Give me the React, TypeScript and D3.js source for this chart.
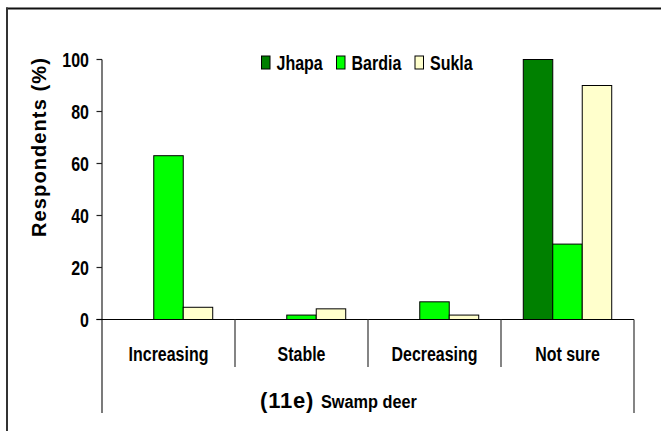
import React from "react";
import * as d3 from "d3";

const categories = ["Increasing", "Stable", "Decreasing", "Not sure"];
const seriesNames = ["Jhapa", "Bardia", "Sukla"];
const jhapa = [0, 0, 0, 100];
const bardia = [63, 1.7, 6.8, 29];
const sukla = [4.7, 4.1, 1.7, 90];
const yTicks = [0, 20, 40, 60, 80, 100];
const colors = ["#008000", "#00FF00", "#FFFFCC"];
const titleBold = "(11e)";
const titleRest = "Swamp deer";
const yTitle = "Respondents (%)";

const W = 661;
const H = 431;
const SANS = "'Liberation Sans', Arial, sans-serif";
const SX = 0.82;

function NT(props: {
  x: number;
  y: number;
  anchor?: string;
  size?: number;
  sx?: number;
  dy?: string;
  spacing?: number;
  children: React.ReactNode;
}) {
  const { x, y, anchor = "start", size = 19, sx = SX, dy, spacing, children } = props;
  return (
    <text
      transform={`translate(${x},${y}) scale(${sx},1)`}
      textAnchor={anchor}
      dy={dy}
      fontFamily={SANS}
      fontWeight="bold"
      fontSize={size}
      letterSpacing={spacing}
      fill="#000"
    >
      {children}
    </text>
  );
}

export default function App() {
  const values = [jhapa, bardia, sukla];
  const x0 = d3.scaleBand<string>().domain(categories).range([102, 634]).padding(0);
  const bw = x0.bandwidth();
  const groupW = bw * 0.665;
  const x1 = d3
    .scaleBand<string>()
    .domain(seriesNames)
    .range([(bw - groupW) / 2, (bw + groupW) / 2])
    .padding(0);
  const y = d3.scaleLinear().domain([0, 100]).range([319.5, 59.5]);
  const axisX = 102;
  const baseY = y(0);

  const legendX = [261.5, 336.5, 415];

  return (
    <svg
      width={W}
      height={H}
      style={{ position: "absolute", left: 0, top: 0, background: "#fff" }}
    >
      {/* outer frame */}
      <line x1={6} x2={W} y1={8.5} y2={8.5} stroke="#111" strokeWidth={2} />
      <line x1={7} x2={7} y1={7.5} y2={H} stroke="#333" strokeWidth={2} />

      {/* bars */}
      {categories.map((c, ci) => (
        <g key={c} transform={`translate(${x0(c)},0)`}>
          {seriesNames.map((s, si) => {
            const v = values[si][ci];
            if (v <= 0) return null;
            return (
              <rect
                key={s}
                x={x1(s)}
                y={y(v)}
                width={x1.bandwidth()}
                height={baseY - y(v)}
                fill={colors[si]}
                stroke="#000"
                strokeWidth={1}
              />
            );
          })}
        </g>
      ))}

      {/* y axis */}
      <line x1={axisX} x2={axisX} y1={y(100)} y2={413} stroke="#222" strokeWidth={1.2} />
      {yTicks.map((t) => (
        <g key={t}>
          <line x1={96.5} x2={axisX} y1={y(t)} y2={y(t)} stroke="#222" strokeWidth={1.2} />
          <NT x={89} y={y(t)} dy="0.36em" anchor="end" size={19.5}>
            {t}
          </NT>
        </g>
      ))}

      {/* x axis line */}
      <line x1={96.5} x2={634} y1={baseY} y2={baseY} stroke="#000" strokeWidth={1.2} />
      {categories.slice(1).map((c) => (
        <line
          key={c}
          x1={x0(c)}
          x2={x0(c)}
          y1={baseY}
          y2={367}
          stroke="#333"
          strokeWidth={1.2}
        />
      ))}
      <line x1={634} x2={634} y1={baseY} y2={413} stroke="#333" strokeWidth={1.2} />
      {categories.map((c) => (
        <NT key={c} x={(x0(c) as number) + bw / 2} y={360.5} anchor="middle" size={21} sx={0.76}>
          {c}
        </NT>
      ))}

      {/* title */}
      <NT x={260} y={408} size={22} sx={1} spacing={0.8}>
        {titleBold}
      </NT>
      <NT x={321} y={408} size={18.5} sx={0.88}>
        {titleRest}
      </NT>

      {/* y title */}
      <text
        transform={`translate(46,147) rotate(-90)`}
        textAnchor="middle"
        fontFamily={SANS}
        fontWeight="bold"
        fontSize={20}
        letterSpacing={1.1}
        fill="#000"
      >
        {yTitle}
      </text>

      {/* legend */}
      {seriesNames.map((s, i) => (
        <g key={s}>
          <rect
            x={legendX[i]}
            y={56}
            width={8.5}
            height={13}
            fill={colors[i]}
            stroke="#000"
            strokeWidth={1}
          />
          <NT x={legendX[i] + 15} y={69.5} size={20} sx={0.8}>
            {s}
          </NT>
        </g>
      ))}
    </svg>
  );
}
